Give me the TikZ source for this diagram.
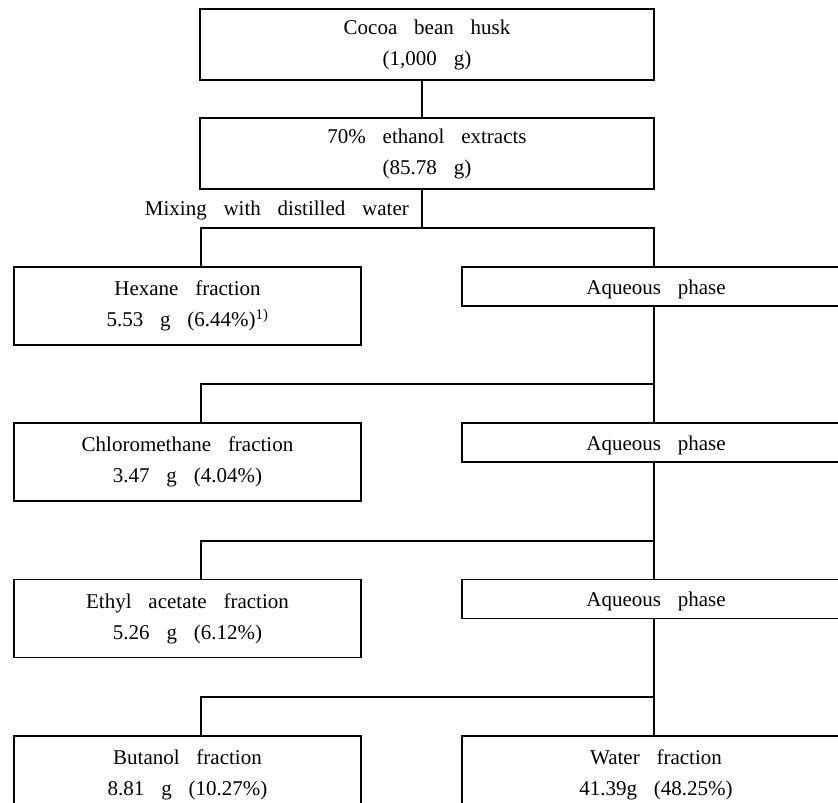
\documentclass[tikz,border=0pt]{standalone}
\usepackage{fontspec}
\setmainfont{Liberation Serif}
\newcommand\widesp{\spaceskip=0.8em plus 0.1em\relax}
\newcommand\topstrut{\rule{0pt}{19.5pt}}
\begin{document}
\begin{tikzpicture}[x=1pt,y=-1pt,
  txt/.style={font=\fontsize{21}{31}\selectfont, execute at begin node=\widesp},
  box/.style={font=\fontsize{21}{31}\selectfont, execute at begin node=\widesp\topstrut, draw, line width=1.1pt, inner sep=0pt, align=center},
  topbox/.style={box, minimum width=454pt, minimum height=71pt},
  leftbox/.style={box, minimum width=347pt, minimum height=78pt},
  rightbox/.style={box, minimum width=388pt, minimum height=78pt},
  aqbox/.style={box, minimum width=388pt, minimum height=39pt},
  link/.style={line width=1.1pt}]
\path[use as bounding box] (0,0) rectangle (838,803);
\clip (0,0) rectangle (838,803);

\node[topbox] (husk) at (427,44.5) {Cocoa bean husk\\(1,000 g)};
\node[topbox] (ext) at (427,153.5) {70\% ethanol extracts\\(85.78 g)};
\node[txt, anchor=base east, inner sep=0pt] (mix) at (409,215) {Mixing with distilled water};

\node[leftbox] (hex) at (187.5,306) {Hexane fraction\\5.53 g (6.44\%)\textsuperscript{1)}};
\node[aqbox] (aq1) at (656,286.5) {Aqueous phase};

\node[leftbox] (chl) at (187.5,462) {Chloromethane fraction\\3.47 g (4.04\%)};
\node[aqbox] (aq2) at (656,442.5) {Aqueous phase};

\node[leftbox] (eth) at (187.5,618.5) {Ethyl acetate fraction\\5.26 g (6.12\%)};
\node[aqbox] (aq3) at (656,599) {Aqueous phase};

\node[leftbox] (but) at (187.5,775) {Butanol fraction\\8.81 g (10.27\%)};
\node[rightbox] (wat) at (656,775) {Water fraction\\41.39g (48.25\%)};

\coordinate (cx) at (422,0);
\coordinate (lx) at (201,0);
\coordinate (rx) at (654,0);
\coordinate (j1) at (0,228);
\coordinate (j2) at (0,384);
\coordinate (j3) at (0,541);
\coordinate (j4) at (0,697);

\draw[link] (husk.south -| cx) -- (ext.north -| cx);
\draw[link] (ext.south -| cx) -- (cx |- j1);
\draw[link] (hex.north -| lx) -- (lx |- j1) -- (rx |- j1) -- (aq1.north -| rx);

\draw[link] (aq1.south -| rx) -- (aq2.north -| rx);
\draw[link] (chl.north -| lx) -- (lx |- j2) -- (rx |- j2);

\draw[link] (aq2.south -| rx) -- (aq3.north -| rx);
\draw[link] (eth.north -| lx) -- (lx |- j3) -- (rx |- j3);

\draw[link] (aq3.south -| rx) -- (wat.north -| rx);
\draw[link] (but.north -| lx) -- (lx |- j4) -- (rx |- j4);
\end{tikzpicture}
\end{document}
